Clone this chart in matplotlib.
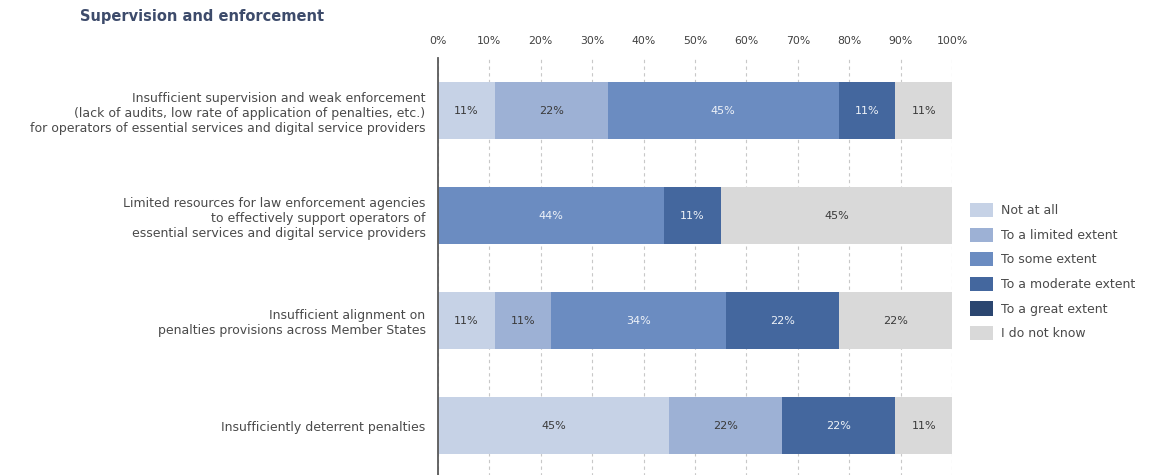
import matplotlib
matplotlib.use("Agg")
import matplotlib.pyplot as plt
from matplotlib.patches import Patch
import numpy as np

title = "Supervision and enforcement"
categories = [
    "Insufficient supervision and weak enforcement\n(lack of audits, low rate of application of penalties, etc.)\nfor operators of essential services and digital service providers",
    "Limited resources for law enforcement agencies\nto effectively support operators of\nessential services and digital service providers",
    "Insufficient alignment on\npenalties provisions across Member States",
    "Insufficiently deterrent penalties",
]
series_names = ["Not at all", "To a limited extent", "To some extent",
                "To a moderate extent", "To a great extent", "I do not know"]
not_at_all = [11, 0, 11, 45]
limited = [22, 0, 11, 22]
some = [45, 44, 34, 0]
moderate = [11, 11, 22, 22]
great = [0, 0, 0, 0]
dont_know = [11, 45, 22, 11]
series_values = [not_at_all, limited, some, moderate, great, dont_know]
xtick_labels = ["0%", "10%", "20%", "30%", "40%", "50%", "60%", "70%", "80%", "90%", "100%"]

colors = ["#c6d2e6", "#9db1d5", "#6b8cc1", "#44679e", "#2b4670", "#d9d9d9"]
text_colors = ["#3a3a3a", "#3a3a3a", "#eef2f8", "#eef2f8", "#eef2f8", "#3a3a3a"]

fig = plt.figure(figsize=(11.51, 4.75), dpi=100)
ax = fig.add_axes([438/1151, 1 - 478/475, 514/1151, 420/475])

y = np.arange(len(categories))
left = np.zeros(len(categories))
for vals, col, tcol in zip(series_values, colors, text_colors):
    vals = np.array(vals, dtype=float)
    ax.barh(y, vals, left=left, height=0.54, color=col, edgecolor="none", zorder=2)
    for yi, (l, v) in enumerate(zip(left, vals)):
        if v > 0:
            ax.text(l + v / 2, yi, f"{int(v)}%", ha="center", va="center",
                    fontsize=8, color=tcol, zorder=3)
    left += vals

ax.set_xlim(0, 100)
ax.set_ylim(3.5, -0.5)
ax.set_xticks(np.arange(0, 101, 10))
ax.set_xticklabels(xtick_labels)
ax.xaxis.tick_top()
ax.tick_params(axis="x", length=0, pad=9, labelsize=7.8, labelcolor="#404040")
ax.set_yticks(y)
ax.set_yticklabels(categories, fontsize=9, color="#4a4a4a", linespacing=1.2)
ax.tick_params(axis="y", length=0, pad=9)
ax.grid(axis="x", linestyle=(0, (3, 3)), color="#c8c8c8", linewidth=0.8, zorder=0)
for s in ["top", "right", "bottom"]:
    ax.spines[s].set_visible(False)
ax.spines["left"].set_color("#595959")
ax.spines["left"].set_linewidth(1.3)
ax.spines["left"].set_zorder(4)

fig.text(80/1151, 1 - 17/475, title, fontsize=10.5, fontweight="bold",
         color="#3d4b6b", ha="left", va="center")

handles = [Patch(facecolor=c, edgecolor="none") for c in colors]
fig.legend(handles, series_names, loc="upper left",
           bbox_to_anchor=(970/1151, 1 - 203/475), frameon=False,
           fontsize=9, handlelength=1.85, handleheight=1.36,
           labelspacing=0.83, handletextpad=0.62, borderpad=0,
           borderaxespad=0, labelcolor="#4a4a4a")

fig.savefig("out.png", dpi=100)
